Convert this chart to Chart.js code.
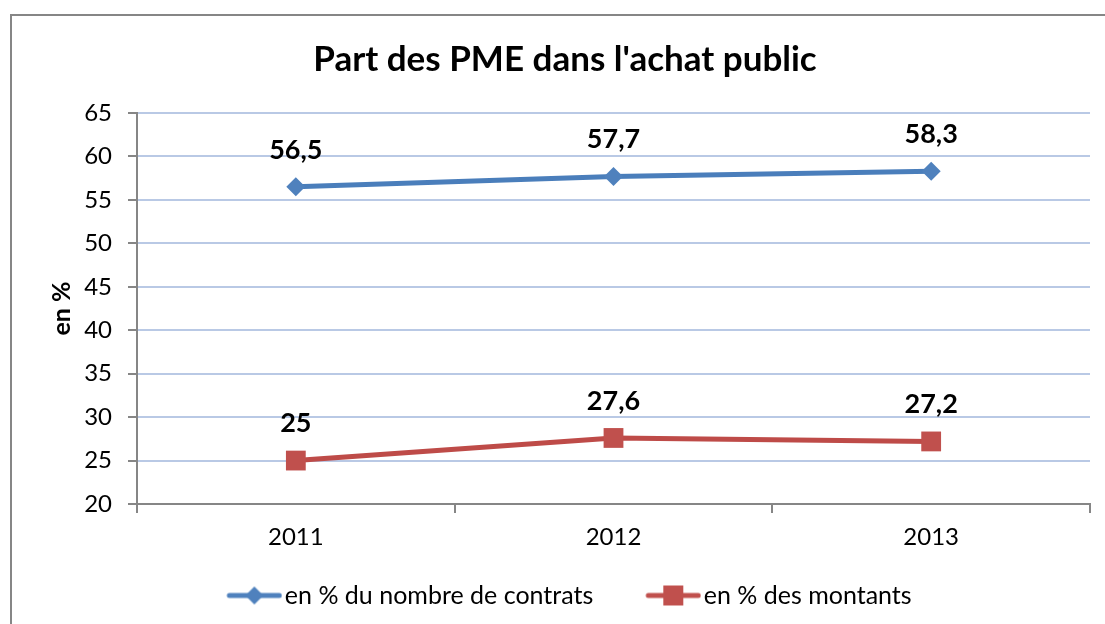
<!DOCTYPE html>
<html>
<head>
<meta charset="utf-8">
<script src="https://cdn.jsdelivr.net/npm/chart.js@4/dist/chart.umd.min.js"></script>
<style>
  html, body { margin: 0; padding: 0; background: #fff; }
  #wrap { width: 1105px; height: 624px; }
</style>
</head>
<body>
<div id="wrap"><canvas id="chart"></canvas></div>
<script>
// données
const years = ['2011', '2012', '2013'];
const partContrats = [56.5, 57.7, 58.3];
const partMontants = [25, 27.6, 27.2];
const seriesNames = ['en % du nombre de contrats', 'en % des montants'];

const FONT = 'Lato, "Open Sans", sans-serif';
const LEGEND_BOX = 78;

// petite image ligne + marqueur pour la légende (calée à droite de la boîte)
function legendSymbol(color, style) {
    const c = document.createElement('canvas');
    c.width = LEGEND_BOX + 20; c.height = 22;
    const g = c.getContext('2d');
    const x0 = c.width - 56;
    g.strokeStyle = color; g.lineWidth = 5; g.lineCap = 'round';
    g.beginPath(); g.moveTo(x0 + 3, 11); g.lineTo(x0 + 53, 11); g.stroke();
    g.fillStyle = color;
    g.beginPath();
    if (style === 'diamond') {
        g.moveTo(x0 + 28, 2); g.lineTo(x0 + 37, 11); g.lineTo(x0 + 28, 20); g.lineTo(x0 + 19, 11);
    } else {
        g.rect(x0 + 18, 1, 20, 20);
    }
    g.closePath(); g.fill();
    return c;
}

// cadre autour du graphique
const frame = {
    id: 'frame',
    beforeDraw(chart) {
        const ctx = chart.ctx;
        ctx.save();
        ctx.fillStyle = '#fff';
        ctx.fillRect(0, 0, chart.width, chart.height);
        ctx.strokeStyle = '#868686';
        ctx.lineWidth = 2;
        ctx.strokeRect(11, 15, 1200, 700);
        ctx.restore();
    }
};

// recentrer la légende (le blanc à gauche du symbole la décale)
const legendShift = {
    id: 'legendShift',
    afterUpdate(chart) {
        if (chart.legend && chart.legend.lineWidths) chart.legend.lineWidths[0] += 24;
    }
};

// étiquettes de valeurs au-dessus des points
const valueLabels = {
    id: 'valueLabels',
    afterDatasetsDraw(chart) {
        const ctx = chart.ctx;
        ctx.save();
        ctx.font = 'bold 27px ' + FONT;
        ctx.fillStyle = '#000';
        ctx.textAlign = 'center';
        ctx.textBaseline = 'middle';
        chart.data.datasets.forEach((ds, i) => {
            chart.getDatasetMeta(i).data.forEach((pt, j) => {
                ctx.fillText(String(ds.data[j]).replace('.', ','), pt.x, pt.y - 37);
            });
        });
        ctx.restore();
    }
};

new Chart(document.getElementById('chart'), {
    type: 'line',
    data: {
        labels: years,
        datasets: [
            {
                label: seriesNames[0], data: partContrats,
                borderColor: '#4a7ebb', backgroundColor: '#4f81bd', borderWidth: 5,
                pointStyle: 'rectRot', pointRadius: 9.5, pointHoverRadius: 9.5,
                pointBorderWidth: 0, tension: 0
            },
            {
                label: seriesNames[1], data: partMontants,
                borderColor: '#be4b48', backgroundColor: '#c0504d', borderWidth: 5,
                pointStyle: 'rect', pointRadius: 14, pointHoverRadius: 14,
                pointBorderWidth: 0, tension: 0
            }
        ]
    },
    options: {
        responsive: true,
        maintainAspectRatio: false,
        animation: false,
        layout: { padding: { left: 40, right: 15, top: 0, bottom: 6 } },
        plugins: {
            title: {
                display: true,
                text: "Part des PME dans l'achat public",
                color: '#000',
                font: { family: FONT, size: 35, weight: 'bold', lineHeight: 1.2 },
                padding: { top: 39, bottom: 32 }
            },
            legend: {
                position: 'bottom',
                labels: {
                    usePointStyle: true,
                    pointStyleWidth: LEGEND_BOX,
                    boxHeight: 22,
                    padding: 20,
                    color: '#000',
                    font: { family: FONT, size: 25 },
                    generateLabels(chart) {
                        return chart.data.datasets.map((ds, i) => ({
                            text: ds.label,
                            pointStyle: legendSymbol(ds.backgroundColor, i === 0 ? 'diamond' : 'square'),
                            fillStyle: ds.backgroundColor,
                            strokeStyle: ds.borderColor,
                            lineWidth: 0,
                            hidden: false,
                            datasetIndex: i
                        }));
                    }
                }
            },
            tooltip: { enabled: false }
        },
        scales: {
            x: {
                offset: true,
                grid: { offset: true, drawOnChartArea: false, tickLength: 9, tickColor: '#868686', lineWidth: 2 },
                border: { color: '#868686', width: 2 },
                ticks: { color: '#000', padding: 10, font: { family: FONT, size: 24 } },
                afterFit(scale) { scale.height = 59; }
            },
            y: {
                min: 20, max: 65,
                ticks: { stepSize: 5, color: '#000', padding: 16, font: { family: FONT, size: 24 } },
                grid: { color: '#b9c9e5', lineWidth: 2, tickLength: 9, tickColor: '#868686' },
                border: { color: '#868686', width: 2 },
                title: {
                    display: true, text: 'en %', color: '#000',
                    font: { family: FONT, size: 25, weight: 'bold' },
                    padding: { top: 7, bottom: 0 }
                },
                afterFit(scale) { scale.width = 97; }
            }
        }
    },
    plugins: [frame, legendShift, valueLabels]
});
</script>
</body>
</html>
